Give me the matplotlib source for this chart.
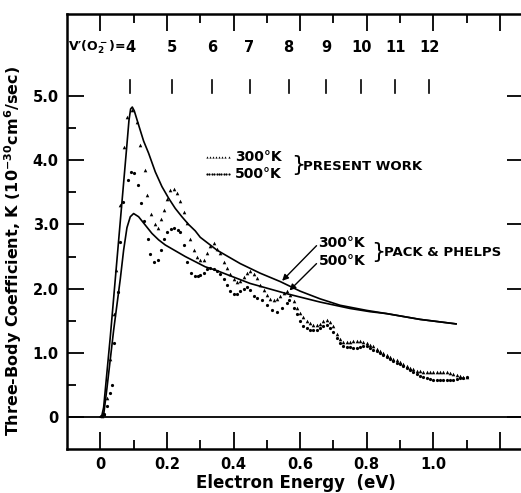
import numpy as np
import matplotlib
matplotlib.use('Agg')
import matplotlib.pyplot as plt

plt.rcParams['font.family'] = ['DejaVu Sans']
plt.rcParams['font.weight'] = 'bold'
plt.rcParams['axes.labelweight'] = 'bold'
plt.rcParams['mathtext.default'] = 'bf'

# present work, 300 K (triangles)
e300 = [0.005, 0.01, 0.02, 0.03, 0.04, 0.047, 0.06, 0.07, 0.08, 0.095, 0.11, 0.12,
        0.133, 0.14, 0.152, 0.163, 0.173, 0.183, 0.192, 0.2, 0.21, 0.22, 0.23, 0.24,
        0.25, 0.26, 0.27, 0.28, 0.29, 0.30, 0.31, 0.32, 0.33, 0.34, 0.35, 0.36, 0.37,
        0.38, 0.39, 0.40, 0.41, 0.42, 0.43, 0.44, 0.45, 0.46, 0.47, 0.48, 0.49, 0.50,
        0.51, 0.52, 0.53, 0.54, 0.55, 0.56, 0.57, 0.58, 0.59, 0.60, 0.61, 0.62, 0.63,
        0.64, 0.65, 0.66, 0.67, 0.68, 0.69, 0.70, 0.71, 0.72, 0.73, 0.74, 0.75, 0.76,
        0.77, 0.78, 0.79, 0.80, 0.81, 0.82, 0.83, 0.84, 0.85, 0.86, 0.87, 0.88, 0.89,
        0.90, 0.91, 0.92, 0.93, 0.94, 0.95, 0.96, 0.97, 0.98, 0.99, 1.00, 1.01, 1.02,
        1.03, 1.04, 1.05, 1.06, 1.07, 1.08, 1.09, 1.10]
k300 = [0.02, 0.05, 0.3, 0.9, 1.6, 2.29, 3.3, 4.2, 4.68, 4.78, 4.6, 4.24,
        3.85, 3.46, 3.17, 3.0, 2.95, 3.08, 3.23, 3.4, 3.54, 3.56, 3.49, 3.36,
        3.2, 3.02, 2.78, 2.6, 2.5, 2.45, 2.45, 2.55, 2.66, 2.71, 2.62, 2.55, 2.42,
        2.32, 2.22, 2.15, 2.1, 2.12, 2.18, 2.25, 2.27, 2.22, 2.16, 2.06, 1.98, 1.9,
        1.84, 1.82, 1.84, 1.88, 1.93, 1.96, 1.9, 1.8, 1.7, 1.62, 1.56, 1.5, 1.46,
        1.44, 1.43, 1.45, 1.49, 1.51, 1.48, 1.41, 1.3, 1.22, 1.17, 1.16, 1.17, 1.19,
        1.19, 1.18, 1.17, 1.15, 1.12, 1.1, 1.06, 1.03, 1.0, 0.96, 0.93, 0.9, 0.88,
        0.86, 0.82, 0.79, 0.76, 0.74, 0.72, 0.71, 0.70, 0.70, 0.70, 0.70, 0.70, 0.70,
        0.70, 0.70, 0.69, 0.67, 0.65, 0.64, 0.62, 0.63]

# present work, 500 K (dots)
e500 = [0.01, 0.02, 0.03, 0.035, 0.042, 0.052, 0.06, 0.068, 0.082, 0.092, 0.102,
        0.112, 0.122, 0.132, 0.142, 0.15, 0.16, 0.172, 0.182, 0.192, 0.2, 0.212,
        0.222, 0.232, 0.24, 0.25, 0.26, 0.273, 0.283, 0.293, 0.30, 0.31, 0.32, 0.33,
        0.34, 0.35, 0.36, 0.37, 0.38, 0.39, 0.40, 0.41, 0.42, 0.43, 0.44, 0.45, 0.46,
        0.47, 0.485, 0.50, 0.515, 0.53, 0.545, 0.56, 0.565, 0.58, 0.59, 0.60, 0.61,
        0.62, 0.63, 0.64, 0.65, 0.66, 0.67, 0.68, 0.69, 0.70, 0.71, 0.72, 0.73, 0.74,
        0.75, 0.76, 0.77, 0.78, 0.79, 0.80, 0.81, 0.82, 0.83, 0.84, 0.85, 0.86, 0.87,
        0.88, 0.89, 0.90, 0.91, 0.92, 0.93, 0.94, 0.95, 0.96, 0.97, 0.98, 0.99, 1.00,
        1.01, 1.02, 1.03, 1.04, 1.05, 1.06, 1.07, 1.08, 1.09, 1.10]
k500 = [0.05, 0.17, 0.38, 0.5, 1.15, 1.95, 2.73, 3.35, 3.69, 3.81, 3.8,
        3.62, 3.33, 3.05, 2.77, 2.54, 2.42, 2.45, 2.60, 2.77, 2.88, 2.93,
        2.94, 2.92, 2.89, 2.68, 2.41, 2.24, 2.19, 2.19, 2.21, 2.25, 2.3, 2.32,
        2.3, 2.27, 2.22, 2.15, 2.05, 1.97, 1.92, 1.92, 1.96, 2.0, 2.02, 1.98, 1.88,
        1.85, 1.82, 1.74, 1.67, 1.64, 1.69, 1.77, 1.82, 1.7, 1.6, 1.5, 1.42,
        1.38, 1.36, 1.35, 1.36, 1.38, 1.42, 1.43, 1.38, 1.33, 1.23, 1.15, 1.1, 1.09,
        1.09, 1.08, 1.08, 1.09, 1.1, 1.1, 1.08, 1.05, 1.02, 0.99, 0.96, 0.93, 0.9,
        0.87, 0.84, 0.82, 0.79, 0.76, 0.73, 0.70, 0.67, 0.64, 0.62, 0.6, 0.59, 0.58,
        0.58, 0.58, 0.58, 0.58, 0.58, 0.58, 0.59, 0.6, 0.61, 0.62]

# Pack & Phelps curves
pp_e300 = [0.0, 0.005, 0.01, 0.02, 0.03, 0.04, 0.05, 0.06, 0.07, 0.08, 0.086, 0.091,
           0.096, 0.102, 0.115, 0.13, 0.145, 0.165, 0.185, 0.205, 0.225, 0.245, 0.265,
           0.285, 0.30, 0.35, 0.42, 0.48, 0.54, 0.60, 0.66, 0.72, 0.80, 0.86, 0.96, 1.068]
pp_k300 = [0.0, 0.03, 0.15, 0.7, 1.25, 1.85, 2.45, 3.05, 3.65, 4.25, 4.62, 4.8,
           4.83, 4.77, 4.55, 4.3, 4.11, 3.82, 3.59, 3.41, 3.25, 3.12, 3.0,
           2.9, 2.8, 2.6, 2.39, 2.24, 2.11, 1.96, 1.84, 1.74, 1.66, 1.61, 1.52, 1.45]
pp_e500 = [0.0, 0.01, 0.02, 0.03, 0.04, 0.05, 0.055, 0.06, 0.07, 0.08, 0.09, 0.10,
           0.115, 0.135, 0.155, 0.175, 0.195, 0.225, 0.255, 0.285, 0.315, 0.345,
           0.45, 0.56, 0.66, 0.75, 0.81, 0.86, 0.96, 1.068]
pp_k500 = [0.0, 0.03, 0.45, 0.9, 1.35, 1.75, 1.95, 2.15, 2.6, 2.95, 3.12, 3.17,
           3.12, 2.99, 2.86, 2.76, 2.68, 2.59, 2.50, 2.42, 2.34, 2.29,
           2.08, 1.92, 1.79, 1.69, 1.64, 1.61, 1.52, 1.45]

# vibrational levels of O2-
v_levels = ['4', '5', '6', '7', '8', '9', '10', '11', '12']
v_energy = [0.09, 0.215, 0.335, 0.448, 0.565, 0.678, 0.783, 0.885, 0.988]

fig = plt.figure(figsize=(5.21, 4.93), dpi=100)
ax = fig.add_axes([67 / 521, 44 / 493, 457 / 521, 435 / 493])
ax.set_xlim(-0.1, 1.272)
ax.set_ylim(-0.5, 6.28)

ax.axhline(0, color='black', lw=1.3)

ax.plot(pp_e300, pp_k300, color='black', lw=1.2)
ax.plot(pp_e500, pp_k500, color='black', lw=1.2)
ax.plot(e300, k300, ls='none', marker='^', ms=2.6, mew=0, color='black')
ax.plot(e500, k500, ls='none', marker='o', ms=2.3, mew=0, color='black')

# V' markers along the top
for lab, en in zip(v_levels, v_energy):
    ax.plot([en, en], [5.05, 5.25], color='black', lw=1.2)
    ax.text(en, 5.76, lab, ha='center', va='center', fontsize=10.5)
ax.text(0.075, 5.76, "V\u2032(O$_2^-$)=", ha='right', va='center', fontsize=9)

# present work key
ax.plot(np.linspace(0.32, 0.385, 8), [4.05] * 8, ls='none', marker='^', ms=1.6, mew=0, color='black')
ax.plot(np.linspace(0.32, 0.385, 10), [3.79] * 10, ls='none', marker='o', ms=1.6, mew=0, color='black')
ax.text(0.405, 4.05, '300°K', va='center', fontsize=10)
ax.text(0.405, 3.79, '500°K', va='center', fontsize=10)
ax.text(0.572, 3.92, '}', va='center', fontsize=16, fontweight='normal')
ax.text(0.61, 3.91, 'PRESENT WORK', va='center', fontsize=9.5)

# Pack & Phelps key with arrows
ax.text(0.655, 2.71, '300°K', va='center', fontsize=10)
ax.text(0.655, 2.43, '500°K', va='center', fontsize=10)
ax.text(0.812, 2.57, '}', va='center', fontsize=16, fontweight='normal')
ax.text(0.852, 2.57, 'PACK & PHELPS', va='center', fontsize=9.5)
ax.annotate('', xy=(0.54, 2.09), xytext=(0.655, 2.70),
            arrowprops=dict(arrowstyle='-|>', color='black', lw=1.0, mutation_scale=9))
ax.annotate('', xy=(0.562, 1.94), xytext=(0.655, 2.42),
            arrowprops=dict(arrowstyle='-|>', color='black', lw=1.0, mutation_scale=9))

# axes and ticks
for s in ax.spines.values():
    s.set_linewidth(1.8)
ax.set_xticks([0, 0.2, 0.4, 0.6, 0.8, 1.0, 1.2])
ax.set_xticklabels(['0', '0.2', '0.4', '0.6', '0.8', '1.0', ''])
ax.set_xticks([0.1, 0.3, 0.5, 0.7, 0.9, 1.1], minor=True)
ax.set_yticks([0, 1, 2, 3, 4, 5])
ax.set_yticklabels(['0', '1.0', '2.0', '3.0', '4.0', '5.0'])
ax.set_yticks([0.5, 1.5, 2.5, 3.5, 4.5], minor=True)
ax.tick_params(which='major', direction='in', length=12, width=1.3,
               top=True, right=True, labelsize=10.5, pad=6)
ax.tick_params(which='minor', direction='in', length=6.5, width=1.3,
               top=True, right=False)
ax.tick_params(axis='x', pad=6)

ax.set_xlabel('Electron Energy  (eV)', fontsize=12, labelpad=1)
ax.set_ylabel('Three-Body Coefficient, K (10$^{-30}$cm$^6$/sec)', fontsize=11.5)
ax.yaxis.set_label_coords(-0.094, 0.455)

fig.savefig('out.png', dpi=100)
